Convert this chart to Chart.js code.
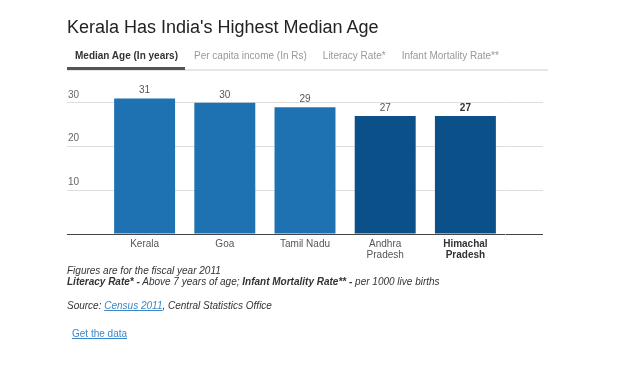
<!DOCTYPE html>
<html>
<head>
<meta charset="utf-8">
<script src="https://cdn.jsdelivr.net/npm/chart.js@4/dist/chart.umd.min.js"></script>
<style>
  body { margin: 0; background: #fff; font-family: "Liberation Sans", Arial, sans-serif; }
  #wrap { position: relative; width: 640px; height: 370px; overflow: hidden; }
  #chart { position: absolute; left: 0; top: 0; }
  .txt { position: absolute; white-space: nowrap; }
  #title { left: 67px; top: 18px; font-size: 18px; line-height: 18px; color: #222; }
  #tabline { left: 67px; top: 69px; width: 481px; height: 2px; background: #e6e6e6; }
  #tabs { left: 67px; top: 51px; display: flex; font-size: 10px; line-height: 10px; }
  #tabs span { padding: 0 8px; color: #999; }
  #tabs span.on { color: #333; font-weight: bold; }
  #tabmark { left: 67px; top: 67px; width: 118px; height: 3px; background: #555; }
  .note { left: 67px; font-size: 10px; line-height: 10px; color: #333; font-style: italic; }
  a { color: #3b87c9; text-decoration: underline; }
</style>
</head>
<body>
<div id="wrap">
  <canvas id="chart" width="640" height="370"></canvas>
  <div class="txt" id="title">Kerala Has India's Highest Median Age</div>
  <div class="txt" id="tabline"></div>
  <div class="txt" id="tabmark"></div>
  <div class="txt" id="tabs"></div>
  <div class="txt note" style="top:266px">Figures are for the fiscal year 2011</div>
  <div class="txt note" style="top:277px"><b>Literacy Rate* -</b> Above 7 years of age; <b>Infant Mortality Rate** -</b> per 1000 live births</div>
  <div class="txt note" style="top:301px">Source: <a>Census 2011</a>, Central Statistics Office</div>
  <div class="txt note" style="top:329px;left:72px;font-style:normal"><a>Get the data</a></div>
</div>
<script>
// Chart data
const tabNames = ['Median Age (In years)', 'Per capita income (In Rs)', 'Literacy Rate*', 'Infant Mortality Rate**'];
const states = ['Kerala', 'Goa', 'Tamil Nadu', ['Andhra', 'Pradesh'], ['Himachal', 'Pradesh']];
const medianAge = [31, 30, 29, 27, 27];
const yTickValues = [0, 10, 20, 30];

const boldIndex = 4;
const barColors = ['#1f72b2', '#1f72b2', '#1f72b2', '#0b5089', '#0b5089'];

// Tabs above the chart
document.getElementById('tabs').innerHTML = tabNames.map((t, i) =>
    `<span class="${i === 0 ? 'on' : ''}">${t}</span>`).join('');

// Value labels on top of the bars
const valueLabels = {
    id: 'valueLabels',
    afterDatasetsDraw(chart) {
        const ctx = chart.ctx;
        const meta = chart.getDatasetMeta(0);
        ctx.save();
        ctx.textAlign = 'center';
        ctx.textBaseline = 'alphabetic';
        meta.data.forEach((bar, i) => {
            ctx.font = (i === boldIndex ? 'bold ' : '') + '10px "Liberation Sans", Arial, sans-serif';
            ctx.fillStyle = i === boldIndex ? '#333' : '#555';
            ctx.fillText(medianAge[i], bar.x, bar.y - 5);
        });
        ctx.restore();
    }
};

const gridColor = c => (c.tick && c.tick.value === 0) ? '#444' : '#dedede';
const setTicks = scale => { scale.ticks = yTickValues.map(v => ({ value: v })); };

new Chart(document.getElementById('chart'), {
    type: 'bar',
    data: {
        labels: states,
        datasets: [{
            data: medianAge,
            backgroundColor: barColors,
            categoryPercentage: 1,
            barPercentage: 0.76
        }]
    },
    options: {
        responsive: false,
        animation: false,
        layout: { padding: { left: 67, right: 97, top: 81, bottom: 106 } },
        plugins: { legend: { display: false }, tooltip: { enabled: false } },
        scales: {
            x: {
                grid: { display: false, drawTicks: false },
                border: { display: false },
                ticks: {
                    padding: 5,
                    autoSkip: false,
                    maxRotation: 0,
                    color: c => c.index === boldIndex ? '#333' : '#555',
                    font: c => ({ size: 10, lineHeight: 1.1, family: '"Liberation Sans", Arial, sans-serif', weight: c.index === boldIndex ? 'bold' : 'normal' })
                },
                afterFit: s => { s.height = 30; }
            },
            y: {
                position: 'left',
                min: 0,
                max: 35,
                afterBuildTicks: setTicks,
                grid: { color: gridColor, tickColor: gridColor, tickLength: 37.5 },
                border: { display: false },
                ticks: {
                    crossAlign: 'near',
                    padding: -12,
                    labelOffset: -8,
                    color: '#666',
                    font: { size: 10, family: '"Liberation Sans", Arial, sans-serif' },
                    callback: v => v === 0 ? '' : v
                },
                afterFit: s => { s.width = 37.5; }
            },
            y2: {
                position: 'right',
                min: 0,
                max: 35,
                afterBuildTicks: setTicks,
                grid: { drawOnChartArea: false, color: gridColor, tickColor: gridColor, tickLength: 37.5 },
                border: { display: false },
                ticks: { display: false },
                afterFit: s => { s.width = 37.5; }
            }
        }
    },
    plugins: [valueLabels]
});
</script>
</body>
</html>
